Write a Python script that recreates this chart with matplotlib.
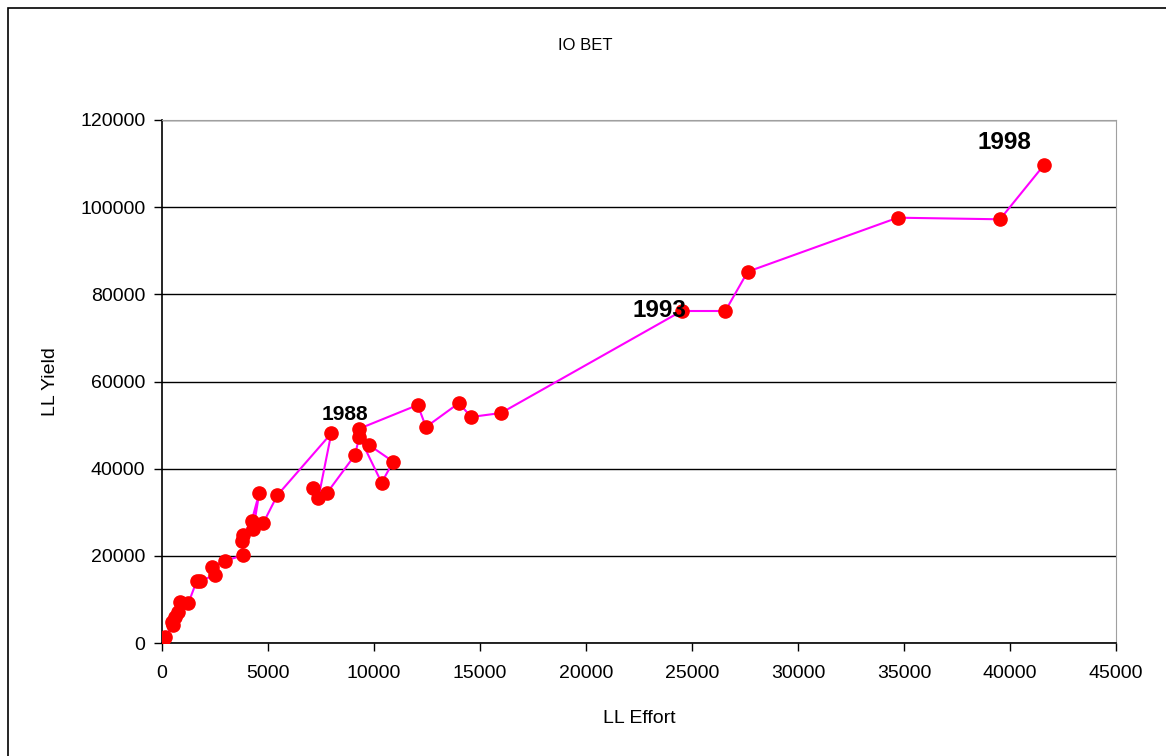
import matplotlib.pyplot as plt
from matplotlib.patches import Rectangle

# LL effort / yield, in chronological order
effort = [61, 141, 533, 457, 613, 769, 849, 1241, 1635, 1792,
          2500, 2344, 2972, 3835, 3760, 3835, 4229, 4590, 4307, 4778,
          5439, 7986, 7373, 7137, 7767, 9104, 9307, 10360, 10906, 9777,
          9307, 12061, 12453, 14009, 14575, 15991, 24514, 26571, 27628, 34703,
          39529, 41604]
yld = [688, 1446, 4130, 4888, 6035, 7182, 9476, 9109, 14200, 14200,
       15602, 17507, 18884, 20122, 23403, 24780, 27992, 34470, 26089, 27534,
       33889, 48102, 33178, 35473, 34326, 43136, 47342, 36788, 41606, 45388,
       49178, 54608, 49560, 55067, 51855, 52772, 76176, 76176, 85196, 97585,
       97218, 109677]

year_labels = ["1988", "1993", "1998"]
label_x = [8632, 23443, 39717]
label_y = [52314, 76176, 114723]
label_size = [15, 17.5, 17.5]

plt.rcParams['font.family'] = ['Liberation Sans', 'DejaVu Sans']

fig = plt.figure(figsize=(11.66, 7.56), dpi=100)
fig.patches.append(Rectangle((8 / 1166, -0.1), 1.2, 1 - 8 / 756 + 0.1,
                             transform=fig.transFigure, fill=False,
                             edgecolor='black', linewidth=1.2))

ax = fig.add_axes([162 / 1166, 1 - 643 / 756, (1116 - 162) / 1166, (643 - 120) / 756])
ax.plot(effort, yld, color='#ff00ff', linewidth=1.5, zorder=2)
ax.plot(effort, yld, 'o', color='#ff0000', markersize=9.5, zorder=3)

for lab, lx, ly, fs in zip(year_labels, label_x, label_y, label_size):
    ax.text(lx, ly, lab, fontsize=fs, fontweight='bold', ha='center', va='center', zorder=4)

ax.set_xlim(0, 45000)
ax.set_ylim(0, 120000)
ax.set_xticks(range(0, 45001, 5000))
ax.set_yticks(range(0, 120001, 20000))
ax.yaxis.grid(True, color='black', linewidth=1)
ax.set_axisbelow(True)
ax.tick_params(direction='out', length=6, width=1, labelsize=14, pad=6)
ax.tick_params(axis='x', pad=10)

for side in ['top', 'right']:
    ax.spines[side].set_color('#a0a0a0')
for side in ['left', 'bottom']:
    ax.spines[side].set_color('black')
    ax.spines[side].set_linewidth(1.2)

ax.set_xlabel("LL Effort", fontsize=14, labelpad=20)
ax.set_ylabel("LL Yield", fontsize=14, labelpad=15)
fig.text(585 / 1166, 1 - 45 / 756, "IO BET", fontsize=12, ha='center', va='center')

plt.savefig("out.png", dpi=100)
